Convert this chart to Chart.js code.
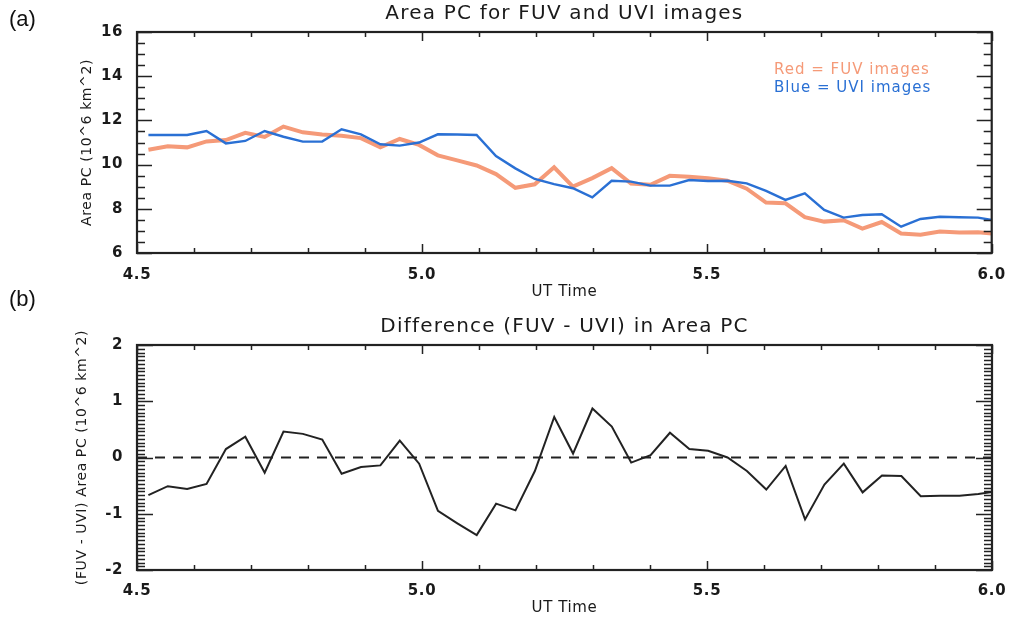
<!DOCTYPE html>
<html>
<head>
<meta charset="utf-8">
<title>Area PC for FUV and UVI images</title>
<script src="https://cdn.jsdelivr.net/npm/chart.js@4.4.1/dist/chart.umd.min.js"></script>
<style>
  html, body { margin: 0; padding: 0; background: #fff; }
  #wrap { position: relative; width: 1010px; height: 620px; overflow: hidden; }
  canvas { position: absolute; left: 0; }
  #cA { top: 0; }
  #cB { top: 310px; }
  .panel { position: absolute; left: 9px; font: 22px "Liberation Sans", Arial, sans-serif; color: #111; }
</style>
</head>
<body>
<div id="wrap">
  <canvas id="cA" width="1010" height="310"></canvas>
  <canvas id="cB" width="1010" height="310"></canvas>
  <div class="panel" style="top:6px">(a)</div>
  <div class="panel" style="top:286px">(b)</div>
</div>
<script>
// UT time of each image pair (hours)
var times = [4.520, 4.554, 4.588, 4.622, 4.656, 4.690, 4.724, 4.757, 4.791, 4.825,
             4.859, 4.893, 4.927, 4.961, 4.995, 5.028, 5.062, 5.096, 5.130, 5.164,
             5.198, 5.232, 5.265, 5.299, 5.333, 5.367, 5.401, 5.435, 5.469, 5.502,
             5.536, 5.570, 5.604, 5.638, 5.672, 5.706, 5.740, 5.773, 5.807, 5.841,
             5.875, 5.909, 5.943, 5.976, 6.010];

// polar cap area, 10^6 km^2
var fuvArea = [10.67, 10.83, 10.78, 11.05, 11.11, 11.44, 11.25, 11.72, 11.46, 11.36,
               11.31, 11.20, 10.78, 11.16, 10.89, 10.42, 10.19, 9.96, 9.57, 8.95,
               9.11, 9.88, 9.00, 9.39, 9.84, 9.14, 9.09, 9.49, 9.45, 9.38,
               9.27, 8.91, 8.28, 8.25, 7.62, 7.42, 7.48, 7.10, 7.40, 6.88,
               6.83, 6.97, 6.93, 6.94, 6.86];
var uviArea = [11.34, 11.34, 11.34, 11.52, 10.96, 11.07, 11.52, 11.26, 11.04, 11.04,
               11.60, 11.37, 10.92, 10.86, 11.00, 11.37, 11.36, 11.34, 10.39, 9.83,
               9.35, 9.12, 8.93, 8.52, 9.27, 9.23, 9.05, 9.05, 9.30, 9.26,
               9.27, 9.15, 8.81, 8.40, 8.70, 7.95, 7.60, 7.72, 7.75, 7.19,
               7.54, 7.64, 7.62, 7.60, 7.45];
var areaDiff = [-0.67, -0.51, -0.56, -0.47, 0.15, 0.37, -0.27, 0.46, 0.42, 0.32,
                -0.29, -0.17, -0.14, 0.30, -0.11, -0.95, -1.17, -1.38, -0.82, -0.94,
                -0.24, 0.72, 0.07, 0.87, 0.55, -0.09, 0.04, 0.44, 0.15, 0.12,
                0.00, -0.24, -0.57, -0.15, -1.10, -0.48, -0.11, -0.62, -0.32, -0.33,
                -0.69, -0.68, -0.68, -0.65, -0.60];

var zeroX = [4.5, 6.0];
var zeroY = [0, 0];

var xTicks = [4.5, 5.0, 5.5, 6.0];
var yTicksA = [6, 8, 10, 12, 14, 16];
var yTicksB = [-2, -1, 0, 1, 2];

var RED = '#f59a78';
var BLUE = '#2a70d4';
var INK = '#1a1a1a';
var FONT = '"DejaVu Sans", "Open Sans", sans-serif';

Chart.defaults.font.family = FONT;
Chart.defaults.color = INK;

function pairs(xs, ys) {
  var out = [];
  for (var i = 0; i < xs.length; i++) out.push({ x: xs[i], y: ys[i] });
  return out;
}

// wider glyph spacing for the axis text, closer to the IDL font
var spacing = {
  id: 'spacing',
  beforeDraw: function (chart) { chart.ctx.letterSpacing = '0.6px'; }
};

// box round the plot with inward ticks on all four sides, plus title and notes
function makeFrame(cfg) {
  return {
    id: 'frame',
    afterDatasetsDraw: function (chart) {
      var ctx = chart.ctx, a = chart.chartArea;
      var xs = chart.scales.x, ys = chart.scales.y;
      ctx.save();
      ctx.strokeStyle = '#222';
      ctx.lineWidth = 1.5;
      ctx.beginPath();
      var n = Math.round((xs.max - xs.min) / cfg.xStep);
      for (var i = 0; i <= n; i++) {
        var v = xs.min + i * cfg.xStep;
        var px = Math.round(xs.getPixelForValue(v)) + 0.5;
        var major = Math.abs(v / cfg.xMajor - Math.round(v / cfg.xMajor)) < 1e-6;
        var len = major ? cfg.xLong : cfg.xShort;
        ctx.moveTo(px, a.bottom); ctx.lineTo(px, a.bottom - len);
        ctx.moveTo(px, a.top); ctx.lineTo(px, a.top + len);
      }
      n = Math.round((ys.max - ys.min) / cfg.yStep);
      for (i = 0; i <= n; i++) {
        v = ys.min + i * cfg.yStep;
        var py = Math.round(ys.getPixelForValue(v)) + 0.5;
        major = Math.abs(v / cfg.yMajor - Math.round(v / cfg.yMajor)) < 1e-6;
        len = major ? cfg.yLong : cfg.yShort;
        ctx.moveTo(a.left, py); ctx.lineTo(a.left + len, py);
        ctx.moveTo(a.right, py); ctx.lineTo(a.right - len, py);
      }
      ctx.stroke();
      ctx.lineWidth = 2.2;
      ctx.strokeRect(a.left, a.top, a.right - a.left, a.bottom - a.top);

      ctx.fillStyle = INK;
      ctx.textAlign = 'center';
      ctx.textBaseline = 'middle';
      ctx.letterSpacing = '1.2px';
      ctx.font = '500 20px ' + FONT;
      ctx.fillText(cfg.title, (a.left + a.right) / 2, cfg.titleY);

      ctx.textAlign = 'left';
      ctx.letterSpacing = '1px';
      ctx.font = '15px ' + FONT;
      (cfg.notes || []).forEach(function (nt) {
        ctx.fillStyle = nt.color;
        ctx.fillText(nt.text, nt.x, nt.y);
      });
      ctx.restore();
    }
  };
}

function xScale(height, pad, titlePad) {
  return {
    type: 'linear', min: 4.5, max: 6.0,
    grid: { display: false }, border: { display: false },
    afterBuildTicks: function (s) { s.ticks = xTicks.map(function (v) { return { value: v }; }); },
    afterFit: function (s) { s.height = height; },
    ticks: { padding: pad, autoSkip: false, maxRotation: 0, font: { size: 15, weight: 'bold' },
             callback: function (v) { return Number(v).toFixed(1); } },
    title: { display: true, text: 'UT Time', font: { size: 15 }, padding: { top: 0, bottom: titlePad } }
  };
}

function yScale(min, max, ticks, title, titlePad) {
  return {
    min: min, max: max,
    grid: { display: false }, border: { display: false },
    afterBuildTicks: function (s) { s.ticks = ticks.map(function (v) { return { value: v }; }); },
    afterFit: function (s) { s.width = 67; },
    ticks: { padding: 6, autoSkip: false, font: { size: 15, weight: 'bold' },
             callback: function (v) { return String(v); } },
    title: { display: true, text: title, font: { size: 14 }, padding: { top: titlePad, bottom: 0 } }
  };
}

var common = {
  responsive: false,
  animation: false,
  events: [],
  plugins: { legend: { display: false }, tooltip: { enabled: false } },
  elements: { point: { radius: 0 }, line: { tension: 0 } }
};

new Chart(document.getElementById('cA'), {
  type: 'line',
  data: {
    datasets: [
      { data: pairs(times, uviArea), borderColor: BLUE, borderWidth: 2.4, order: 0 },
      { data: pairs(times, fuvArea), borderColor: RED, borderWidth: 4, order: 1 }
    ]
  },
  options: Object.assign({}, common, {
    layout: { padding: { left: 70, right: 18, top: 32, bottom: 0 } },
    scales: {
      x: xScale(57, 5, 9),
      y: yScale(6, 16, yTicksA, 'Area PC (10^6 km^2)', 9)
    }
  }),
  plugins: [spacing, makeFrame({
    xStep: 0.1, xMajor: 0.5, xShort: 5, xLong: 9,
    yStep: 0.5, yMajor: 2, yShort: 8, yLong: 15,
    title: 'Area PC for FUV and UVI images', titleY: 14,
    notes: [
      { text: 'Red = FUV images', color: RED, x: 774, y: 70 },
      { text: 'Blue = UVI images', color: BLUE, x: 774, y: 88 }
    ]
  })]
});

new Chart(document.getElementById('cB'), {
  type: 'line',
  data: {
    datasets: [
      { data: pairs(times, areaDiff), borderColor: '#222', borderWidth: 2, order: 0 },
      { data: pairs(zeroX, zeroY), borderColor: '#222', borderWidth: 2, borderDash: [10, 8], order: 1 }
    ]
  },
  options: Object.assign({}, common, {
    layout: { padding: { left: 70, right: 18, top: 35, bottom: 0 } },
    scales: {
      x: xScale(50, 4, 3),
      y: yScale(-2, 2, yTicksB, '(FUV - UVI) Area PC (10^6 km^2)', 4)
    }
  }),
  plugins: [spacing, makeFrame({
    xStep: 0.1, xMajor: 0.5, xShort: 5, xLong: 9,
    yStep: 1 / 15, yMajor: 1, yShort: 8, yLong: 16,
    title: 'Difference (FUV - UVI) in Area PC', titleY: 17
  })]
});
</script>
</body>
</html>
